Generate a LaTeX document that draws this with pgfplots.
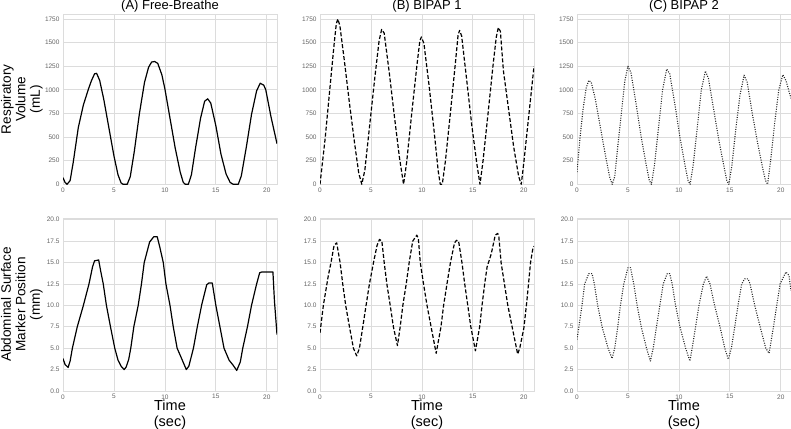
\documentclass[border=0pt]{standalone}
\usepackage{pgfplots}
\pgfplotsset{compat=1.18}
\usepackage{fontspec}
\setmainfont{Liberation Sans}
\definecolor{gridc}{RGB}{220,220,220}
\definecolor{tickc}{RGB}{100,100,100}
\pgfplotsset{
  every axis title shift=0pt,
  panel/.style={
    scale only axis, width=214bp, anchor=south west,
    xmin=0, xmax=21, xtick={0,5,10,15,20},
    grid=major, major grid style={draw=gridc, line width=0.8bp},
    axis line style={draw=gridc, line width=0.9bp},
    major tick length=0pt,
    tick label style={font=\fontsize{6.5bp}{7bp}\selectfont, text=tickc},
    /pgf/number format/assume math mode=true,
    /pgf/number format/1000 sep={},
    scaled y ticks=false,
    title style={font=\fontsize{13bp}{14bp}\selectfont, at={(axis description cs:0.5,1)}, anchor=south, inner sep=0pt, yshift=1.7bp},
    ylabel style={font=\fontsize{13.6bp}{14.5bp}\selectfont, align=center, inner sep=0pt,
      at={(axis description cs:-0.0935,0.5)}, anchor=south},
    xlabel style={font=\fontsize{14.5bp}{15.5bp}\selectfont, align=center, inner sep=0pt,
      at={(axis description cs:0.5,0)}, anchor=north, yshift=-9bp},
    clip=true,
  },
  toprow/.style={panel, height=170bp, ymin=0, ymax=1800, ytick={0,250,...,1750}},
  botrow/.style={panel, height=173bp, ymin=0, ymax=20.2, ytick={0,2.5,...,20},
    yticklabel style={/pgf/number format/.cd, fixed, fixed zerofill, precision=1},
    xlabel={Time\\(sec)}},
  curve/.style={black, line width=1.2bp, line join=round},
  dotc/.style={black!85, line width=1.1bp, dash pattern=on 1bp off 1.4bp, line join=round},
}
\begin{document}
\begin{tikzpicture}
\useasboundingbox (0,0) rectangle (791bp,-429bp);
% ---------- top row ----------
\begin{axis}[toprow, at={(63bp,-184.3bp)}, title={(A) Free-Breathe}, ylabel={Respiratory\\Volume\\(mL)}]
\addplot[curve] coordinates {(0,70)(0.2,20)(0.4,0)(0.7,40)(1.0,230)(1.5,600)(2.0,840)(2.5,1010)(2.8,1100)(3.1,1170)(3.3,1175)(3.6,1100)(4.0,900)(4.5,600)(5.0,300)(5.4,100)(5.7,15)(5.9,0)(6.3,0)(6.6,80)(7.0,350)(7.5,750)(8.0,1080)(8.4,1240)(8.7,1295)(9.0,1300)(9.3,1280)(9.7,1160)(10.0,1010)(10.5,700)(11.0,390)(11.5,130)(11.8,20)(12.0,0)(12.3,0)(12.6,100)(13.0,380)(13.5,700)(13.9,880)(14.2,905)(14.5,860)(15.0,620)(15.5,320)(16.0,110)(16.4,20)(16.7,0)(17.2,0)(17.5,90)(18.0,400)(18.5,740)(19.0,990)(19.35,1070)(19.7,1050)(19.9,1000)(20.4,720)(21.0,430)};
\end{axis}
\begin{axis}[toprow, at={(320bp,-184.3bp)}, title={(B) BIPAP 1}]
\addplot[curve, dash pattern=on 4bp off 2bp] coordinates {(0,0)(0.5,480)(1.0,1050)(1.4,1500)(1.6,1700)(1.75,1750)(1.95,1680)(2.4,1300)(2.9,850)(3.4,430)(3.8,120)(4.1,0)(4.4,150)(4.9,650)(5.4,1150)(5.8,1520)(6.05,1640)(6.3,1600)(6.8,1180)(7.3,720)(7.8,280)(8.2,0)(8.5,230)(9.0,750)(9.5,1250)(9.8,1520)(9.95,1560)(10.2,1490)(10.7,1050)(11.2,560)(11.6,140)(11.8,0)(12.0,0)(12.3,240)(12.8,760)(13.3,1300)(13.55,1580)(13.7,1630)(13.9,1570)(14.4,1100)(14.9,620)(15.4,210)(15.7,0)(16.0,250)(16.5,760)(17.0,1280)(17.3,1560)(17.5,1660)(17.7,1620)(18.0,1200)(18.5,800)(19.0,400)(19.5,80)(19.75,0)(20.0,230)(20.5,740)(21.0,1250)};
\end{axis}
\begin{axis}[toprow, at={(577bp,-184.3bp)}, title={(C) BIPAP 2}]
\addplot[dotc] coordinates {(0,130)(0.3,500)(0.6,800)(0.9,1020)(1.15,1100)(1.4,1080)(1.8,900)(2.3,600)(2.8,300)(3.2,80)(3.45,0)(3.7,80)(4.0,400)(4.4,800)(4.7,1100)(5.0,1250)(5.3,1180)(5.8,850)(6.3,500)(6.8,200)(7.1,40)(7.3,0)(7.6,200)(8.0,600)(8.4,1000)(8.8,1220)(9.1,1170)(9.6,850)(10.1,500)(10.6,200)(10.9,40)(11.1,0)(11.4,200)(11.8,600)(12.2,1000)(12.6,1200)(12.9,1120)(13.4,800)(13.9,480)(14.4,200)(14.7,40)(14.9,0)(15.2,200)(15.6,600)(16.0,950)(16.4,1155)(16.7,1080)(17.2,750)(17.7,450)(18.2,180)(18.5,40)(18.7,0)(19.0,250)(19.4,650)(19.8,1000)(20.2,1160)(20.5,1100)(21.0,910)};
\end{axis}
% ---------- bottom row ----------
\begin{axis}[botrow, at={(63bp,-391bp)}, ylabel={Abdominal Surface\\Marker Position\\(mm)}]
\addplot[curve] coordinates {(0,3.8)(0.2,3.1)(0.5,2.75)(0.7,3.5)(0.92,5.0)(1.4,7.5)(2.0,10.0)(2.55,12.5)(2.9,14.5)(3.1,15.2)(3.5,15.3)(3.7,14.0)(3.95,12.5)(4.26,10.0)(4.66,7.5)(5.08,5.0)(5.4,3.6)(5.7,2.9)(6.0,2.5)(6.2,2.8)(6.45,3.7)(6.65,5.0)(6.95,7.5)(7.38,10.0)(7.7,12.5)(7.97,15.0)(8.5,17.4)(8.9,18.0)(9.25,18.0)(9.5,16.8)(9.84,15.0)(10.1,12.5)(10.5,10.0)(10.82,7.5)(11.2,5.0)(11.6,3.9)(12.1,2.5)(12.35,2.9)(12.8,5.0)(13.18,7.5)(13.6,10.0)(14.1,12.4)(14.3,12.6)(14.65,12.6)(15.0,10.0)(15.4,7.5)(15.8,5.0)(16.3,3.6)(16.7,3.0)(17.05,2.4)(17.4,3.4)(17.64,5.0)(18.1,7.5)(18.5,10.0)(19.0,12.5)(19.3,13.8)(19.5,13.9)(20.6,13.9)(20.75,10.5)(21.0,6.6)};
\end{axis}
\begin{axis}[botrow, at={(320bp,-391bp)}]
\addplot[curve, dash pattern=on 4bp off 2bp] coordinates {(0,6.8)(0.33,10.0)(0.82,13.5)(1.08,15.0)(1.38,17.0)(1.64,17.3)(1.97,15.0)(2.23,12.5)(2.52,10.0)(2.89,7.5)(3.28,5.0)(3.6,4.1)(3.87,5.0)(4.2,7.5)(4.52,10.0)(4.85,12.5)(5.25,15.0)(5.6,17.0)(5.84,17.7)(6.07,17.5)(6.3,15.0)(6.56,12.5)(6.89,10.0)(7.2,7.5)(7.6,5.3)(7.87,7.5)(8.13,10.0)(8.46,12.5)(8.75,15.0)(9.1,17.5)(9.5,18.2)(9.65,17.8)(9.84,15.0)(10.16,12.5)(10.5,10.0)(10.9,7.5)(11.4,4.4)(11.87,7.5)(12.13,10.0)(12.46,12.5)(12.8,15.0)(13.2,17.3)(13.4,17.6)(13.6,17.5)(13.93,15.0)(14.2,12.5)(14.5,10.0)(14.8,7.5)(15.25,4.7)(15.67,7.5)(15.9,10.0)(16.16,12.5)(16.4,14.5)(16.8,16.0)(17.2,18.2)(17.44,18.4)(17.55,18.0)(17.77,15.0)(18.1,12.5)(18.43,10.0)(18.85,7.5)(19.4,4.3)(19.6,5.0)(20.0,7.3)(20.3,10.5)(20.66,15.0)(20.9,16.7)(21.0,16.9)};
\end{axis}
\begin{axis}[botrow, at={(577bp,-391bp)}]
\addplot[dotc] coordinates {(0,6.0)(0.49,10.0)(0.75,12.5)(1.15,13.7)(1.48,13.7)(1.7,12.5)(2.03,10.0)(2.46,7.5)(3.05,5.0)(3.44,3.8)(3.7,5.0)(4.0,7.5)(4.26,10.0)(4.59,12.5)(5.0,14.4)(5.25,14.4)(5.57,12.5)(5.9,10.0)(6.3,7.5)(6.82,5.0)(7.2,3.5)(7.48,5.0)(7.8,7.5)(8.13,10.0)(8.46,12.5)(8.85,13.7)(9.1,13.7)(9.34,12.5)(9.67,10.0)(10.1,7.5)(10.66,5.0)(11.08,3.5)(11.3,5.0)(11.64,7.5)(11.97,10.0)(12.4,12.5)(12.72,13.4)(13.05,12.5)(13.5,10.0)(14.03,7.5)(14.5,5.0)(14.85,3.7)(15.15,5.0)(15.48,7.5)(15.8,10.0)(16.16,12.5)(16.46,13.1)(16.79,13.1)(16.98,12.5)(17.44,10.0)(17.97,7.5)(18.52,5.0)(18.85,4.4)(19.28,7.5)(19.6,10.0)(19.93,12.5)(20.5,13.9)(20.8,13.5)(21.0,11.7)};
\end{axis}
\end{tikzpicture}
\end{document}
